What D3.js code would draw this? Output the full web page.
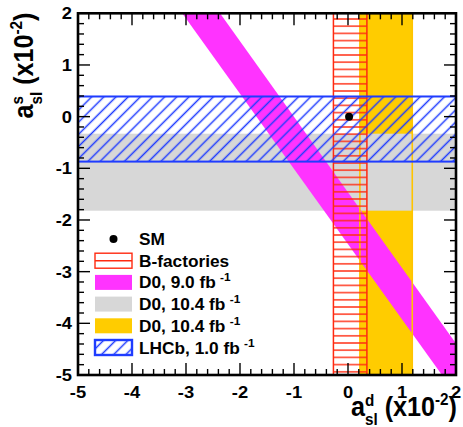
<!DOCTYPE html>
<html>
<head>
<meta charset="utf-8">
<script src="https://cdn.jsdelivr.net/npm/d3@7"></script>
<style>
  html, body { margin: 0; padding: 0; background: #fff; }
  svg { display: block; }
  text { font-family: "Liberation Sans", Arial, Helvetica, sans-serif; font-weight: bold; }
</style>
</head>
<body>
<svg id="chart" width="463" height="427"></svg>
<script>
// ---------------- data (units of 10^-2) ----------------
const xDomain = [-5, 2];
const yDomain = [-5, 2];
const xTickValues = [-5, -4, -3, -2, -1, 0, 1, 2];
const yTickValues = [-5, -4, -3, -2, -1, 0, 1, 2];
const xTickLabels = ["-5", "-4", "-3", "-2", "-1", "0", "1", "2"];
const yTickLabels = ["-5", "-4", "-3", "-2", "-1", "0", "1", "2"];

const smPoint = [0.02, 0.0];                 // (a_sl^d, a_sl^s)
const bFactoriesAsld = [-0.27, 0.35];        // vertical band
const d0AsldBand = [0.22, 1.19];             // vertical band (yellow)
const d0AslsBand = [-1.82, -0.33];           // horizontal band (grey)
const lhcbAslsBand = [-0.87, 0.39];          // horizontal band (blue hatch)
const d0DimuonBand = [[-3.07, 2], [-2.37, 2], [2, -4.39], [2, -5], [1.74, -5]]; // magenta diagonal

const legendKeys = ["sm", "bfac", "d0mu", "d0s", "d0d", "lhcb"];
const legendLabels = ["SM", "B-factories", "D0, 9.0 fb", "D0, 10.4 fb", "D0, 10.4 fb", "LHCb, 1.0 fb"];
const legendSups = ["", "", "-1", "-1", "-1", "-1"];

// ---------------- styles ----------------
const C = {
  red: "#ff2a10", magenta: "#ff33ff", grey: "#d7d7d7", yellow: "#ffcc00",
  yellowLine: "#ffc400", blue: "#1f3cff"
};

const svg = d3.select("#chart");
const x = d3.scaleLinear().domain(xDomain).range([78, 456]);
const y = d3.scaleLinear().domain(yDomain).range([375, 13.3]);

const defs = svg.append("defs");
defs.append("clipPath").attr("id", "plotClip")
  .append("rect").attr("x", x(xDomain[0])).attr("y", y(yDomain[1]))
  .attr("width", x(xDomain[1]) - x(xDomain[0])).attr("height", y(yDomain[0]) - y(yDomain[1]));

// red horizontal hatch
const pr = defs.append("pattern").attr("id", "redHatch").attr("patternUnits", "userSpaceOnUse")
  .attr("width", 10).attr("height", 7.2).attr("y", 1);
pr.append("line").attr("x1", 0).attr("x2", 10).attr("y1", 3.6).attr("y2", 3.6)
  .attr("stroke", C.red).attr("stroke-width", 1.4);

// blue diagonal hatch "///"
const pb = defs.append("pattern").attr("id", "blueHatch").attr("patternUnits", "userSpaceOnUse")
  .attr("width", 8.6).attr("height", 20).attr("patternTransform", "rotate(45)");
pb.append("line").attr("x1", 4.3).attr("x2", 4.3).attr("y1", 0).attr("y2", 20)
  .attr("stroke", C.blue).attr("stroke-width", 1.5);

const plot = svg.append("g").attr("clip-path", "url(#plotClip)");
const yTop = y(yDomain[1]), yBot = y(yDomain[0]), xL = x(xDomain[0]), xR = x(xDomain[1]);

// yellow fill
plot.append("rect").attr("x", x(d0AsldBand[0])).attr("y", yTop)
  .attr("width", x(d0AsldBand[1]) - x(d0AsldBand[0])).attr("height", yBot - yTop)
  .attr("fill", C.yellow);
// grey fill
plot.append("rect").attr("x", xL).attr("y", y(d0AslsBand[1]))
  .attr("width", xR - xL).attr("height", y(d0AslsBand[0]) - y(d0AslsBand[1]))
  .attr("fill", C.grey);
// magenta band
plot.append("path")
  .attr("d", d3.line().x(d => x(d[0])).y(d => y(d[1]))(d0DimuonBand) + "Z")
  .attr("fill", C.magenta);
// yellow outline
d0AsldBand.forEach(v => {
  plot.append("line").attr("x1", x(v)).attr("x2", x(v)).attr("y1", yTop).attr("y2", yBot)
    .attr("stroke", C.yellowLine).attr("stroke-width", 1.6);
});
// red hatched band
plot.append("rect").attr("x", x(bFactoriesAsld[0])).attr("y", yTop - 2)
  .attr("width", x(bFactoriesAsld[1]) - x(bFactoriesAsld[0])).attr("height", yBot - yTop + 4)
  .attr("fill", "url(#redHatch)").attr("stroke", C.red).attr("stroke-width", 1.5);
// blue hatched band
plot.append("rect").attr("x", xL - 3).attr("y", y(lhcbAslsBand[1]))
  .attr("width", xR - xL + 6).attr("height", y(lhcbAslsBand[0]) - y(lhcbAslsBand[1]))
  .attr("fill", "url(#blueHatch)").attr("stroke", C.blue).attr("stroke-width", 2);
// SM point
plot.append("circle").attr("cx", x(smPoint[0])).attr("cy", y(smPoint[1])).attr("r", 4).attr("fill", "#000");

// ---------------- frame & ticks ----------------
const axes = svg.append("g");
const minor = d3.range(0, 36).map(i => xDomain[0] + i * 0.2);
const isMajor = v => Math.abs(v - Math.round(v)) < 1e-6;
minor.forEach(v => {
  const len = isMajor(v) ? 12 : 6;
  axes.append("line").attr("x1", x(v)).attr("x2", x(v)).attr("y1", yBot).attr("y2", yBot - len)
    .attr("stroke", "#000").attr("stroke-width", 1.4);
  axes.append("line").attr("x1", x(v)).attr("x2", x(v)).attr("y1", yTop).attr("y2", yTop + len)
    .attr("stroke", "#000").attr("stroke-width", 1.4);
  axes.append("line").attr("y1", y(v)).attr("y2", y(v)).attr("x1", xL).attr("x2", xL + len)
    .attr("stroke", "#000").attr("stroke-width", 1.4);
  axes.append("line").attr("y1", y(v)).attr("y2", y(v)).attr("x1", xR).attr("x2", xR - len)
    .attr("stroke", "#000").attr("stroke-width", 1.4);
});
axes.append("rect").attr("x", xL).attr("y", yTop).attr("width", xR - xL).attr("height", yBot - yTop)
  .attr("fill", "none").attr("stroke", "#000").attr("stroke-width", 2.6);

// tick labels (slightly wide, as in the reference)
xTickValues.forEach((v, i) => {
  svg.append("text").attr("transform", `translate(${x(v)},398) scale(1.08,1)`)
    .attr("text-anchor", "middle").attr("font-size", 17).text(xTickLabels[i]);
});
yTickValues.forEach((v, i) => {
  svg.append("text").attr("transform", `translate(72,${y(v) + 6}) scale(1.08,1)`)
    .attr("text-anchor", "end").attr("font-size", 17).text(yTickLabels[i]);
});

// ---------------- axis titles ----------------
function buildTitle(g, supA, fontMain, fontSmall, targetWidth) {
  const inner = g.append("g");
  let cx = 0;
  const t1 = inner.append("text").attr("x", cx).attr("y", 0).attr("font-size", fontMain).text("a");
  cx += t1.node().getComputedTextLength();
  const s1 = inner.append("text").attr("x", cx).attr("y", -10).attr("font-size", fontSmall).text(supA);
  const s2 = inner.append("text").attr("x", cx).attr("y", 9).attr("font-size", fontSmall).text("sl");
  cx += Math.max(s1.node().getComputedTextLength(), s2.node().getComputedTextLength());
  const t2 = inner.append("text").attr("x", cx).attr("y", 0).attr("font-size", fontMain).text("\u00a0(x10");
  cx += t2.node().getComputedTextLength();
  const s3 = inner.append("text").attr("x", cx).attr("y", -11).attr("font-size", fontSmall).text("-2");
  cx += s3.node().getComputedTextLength();
  const t3 = inner.append("text").attr("x", cx).attr("y", 0).attr("font-size", fontMain).text(")");
  cx += t3.node().getComputedTextLength();
  const sx = targetWidth / cx;
  inner.attr("transform", `translate(${-targetWidth},0) scale(${sx},1)`);
}
const xt = svg.append("g").attr("transform", "translate(457,416)");
buildTitle(xt, "d", 28, 17, 106);
const yt = svg.append("g").attr("transform", "translate(33,12.5) rotate(-90)");
buildTitle(yt, "s", 28, 17, 106);

// ---------------- legend ----------------
const leg = svg.append("g");
const rowY = i => 239 + i * 21.7;   // centre of row i
const swX = 95, swW = 37, swH = 15;
legendKeys.forEach((k, i) => {
  const cy = rowY(i);
  if (k === "sm") {
    leg.append("circle").attr("cx", swX + swW / 2).attr("cy", cy).attr("r", 4).attr("fill", "#000");
  } else if (k === "bfac") {
    leg.append("rect").attr("x", swX).attr("y", cy - swH / 2).attr("width", swW).attr("height", swH)
      .attr("fill", "#fff").attr("stroke", C.red).attr("stroke-width", 1.4);
    leg.append("line").attr("x1", swX).attr("x2", swX + swW).attr("y1", cy).attr("y2", cy)
      .attr("stroke", C.red).attr("stroke-width", 1.4);
  } else if (k === "d0mu") {
    leg.append("rect").attr("x", swX).attr("y", cy - swH / 2).attr("width", swW).attr("height", swH).attr("fill", C.magenta);
  } else if (k === "d0s") {
    leg.append("rect").attr("x", swX).attr("y", cy - swH / 2).attr("width", swW).attr("height", swH).attr("fill", C.grey);
  } else if (k === "d0d") {
    leg.append("rect").attr("x", swX).attr("y", cy - swH / 2).attr("width", swW).attr("height", swH).attr("fill", C.yellow);
  } else if (k === "lhcb") {
    leg.append("rect").attr("x", swX).attr("y", cy - swH / 2).attr("width", swW).attr("height", swH)
      .attr("fill", "url(#blueHatch)").attr("stroke", C.blue).attr("stroke-width", 2.4);
  }
  const t = leg.append("text").attr("transform", `translate(139,${cy + 6}) scale(1.08,1)`)
    .attr("font-size", 16).text(legendLabels[i]);
  if (legendSups[i]) {
    t.append("tspan").attr("font-size", 11).attr("dx", 4).attr("dy", -7).text(legendSups[i]);
  }
});
</script>
</body>
</html>
